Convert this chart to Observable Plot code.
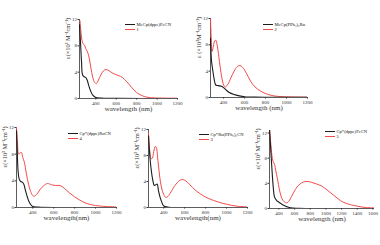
<!DOCTYPE html>
<html><head><meta charset="utf-8">
<script src="https://cdn.jsdelivr.net/npm/d3@7"></script>
<script src="https://cdn.jsdelivr.net/npm/@observablehq/plot@0.6"></script>
<style>
html,body{margin:0;padding:0;background:#fff;}
#fig{position:relative;width:380px;height:245px;overflow:hidden;font-family:"Liberation Serif",serif;}
.pan{position:absolute;}
.leg{position:absolute;font-size:4.6px;line-height:5px;color:#111;white-space:nowrap;}
.leg .row{display:flex;align-items:center;height:5px;}
.leg .sw{display:inline-block;width:10px;height:0;margin-right:1.5px;}
</style></head>
<body><div id="fig"></div>
<script>
// ---- data (wavelength in nm, ε in 10^3 M^-1 cm^-1) ----
const xLabel = "wavelength (nm)";
const yLabel = "ε(×10³ M⁻¹cm⁻¹)";

const p1Names = ["MeCp(dppe)FeCN", "1"];
const p1BlackWl = [240,250,260,270,285,300,315,330,350,370,400,450,600,1200];
const p1BlackV  = [11.2,8.5,5.5,3.6,3.3,3.2,2.8,2.0,1.1,0.5,0.15,0.05,0.02,0];
const p1RedWl = [245,255,265,275,290,300,315,330,350,370,390,405,425,450,475,500,530,570,620,660,700,750,800,850,900,1000,1200];
const p1RedV  = [11.8,10,8.8,8.3,8.1,7.6,7.2,6.5,4.8,3.2,2.4,2.25,2.8,3.6,4.2,4.4,4.2,3.8,3.5,3.2,2.6,1.7,0.9,0.45,0.2,0.08,0.05];
const p1XTicks = [400,600,800,1000,1200];

const p2Names = ["MeCp(PPh₃)₂Ru", "2"];
const p2BlackWl = [275,285,295,310,325,350,380,400,420,450,500,550,600,700,1200];
const p2BlackV  = [9,5.5,4.3,2.8,1.9,1.8,1.7,1.5,1.2,0.8,0.45,0.25,0.12,0.05,0.02];
const p2RedWl = [275,282,290,300,315,325,340,360,380,400,415,440,470,500,530,555,580,620,660,700,750,800,850,900,1000,1200];
const p2RedV  = [12,9,7.0,7.6,8.6,8.7,7.8,5.5,3.3,1.9,1.6,2.0,3.0,4.0,4.7,4.85,4.6,3.6,2.4,1.6,1.0,0.6,0.35,0.2,0.1,0.05];
const p2XTicks = [400,600,800,1000,1200];

const p3Names = ["Cp*(dppe)RuCN", "4"];
const p3BlackWl = [245,252,260,270,285,300,315,330,350,365,380,400,450,1200];
const p3BlackV  = [11.5,8.5,5.5,4.3,3.9,3.8,3.5,2.6,1.5,0.85,0.45,0.15,0.05,0];
const p3RedWl = [245,255,265,280,292,305,320,340,360,380,400,415,440,470,500,540,580,620,660,700,750,800,850,900,950,1000,1100,1200];
const p3RedV  = [12,9.5,8.0,8.2,8.25,7.5,6.8,5.0,3.5,2.4,1.8,1.7,2.0,2.7,3.2,3.6,3.4,3.3,3.3,2.9,2.2,1.6,1.1,0.7,0.45,0.3,0.15,0.1];
const p3XTicks = [400,600,800,1000,1200];

const p4Names = ["Cp*Ru(PPh₃)₂CN", "3"];
const p4BlackWl = [255,265,278,295,310,325,338,350,365,380,400,450,1200];
const p4BlackV  = [11,8.5,6.2,4.3,3.4,3.5,3.6,2.6,1.6,0.9,0.25,0.05,0];
const p4RedWl = [255,265,280,292,305,320,330,345,360,380,400,420,440,470,500,540,575,610,650,700,750,800,850,900,1000,1100,1200];
const p4RedV  = [11.5,9.0,7.5,7.6,8.6,9.4,9.2,7.2,5.0,3.0,2.0,1.55,1.7,2.4,3.2,4.0,4.3,4.1,3.5,2.7,2.1,1.6,1.25,0.95,0.5,0.2,0.1];
const p4XTicks = [400,600,800,1000,1200];

const p5Names = ["Cp*(dppe)FeCN", "5"];
const p5BlackWl = [280,295,310,325,345,370,400,430,460,500,550,650,1620];
const p5BlackV  = [12.6,9.5,6.5,3.8,1.8,1.3,1.0,0.75,0.5,0.3,0.1,0.03,0];
const p5RedWl = [280,295,310,325,345,360,380,410,440,470,500,530,560,590,630,670,710,760,820,880,940,1000,1050,1100,1160,1220,1300,1350,1450,1520,1620];
const p5RedV  = [12.8,10.5,8.5,7.5,7.0,6.0,4.8,2.8,1.55,1.05,0.9,1.2,1.9,2.6,3.4,3.9,4.2,4.3,4.15,3.9,3.6,3.1,2.6,2.1,1.5,1.0,0.65,0.5,0.25,0.15,0.1];
const p5XTicks = [400,600,800,1000,1200,1400,1600];

const yTicks = [0,4,8,12];

// ---- layout (frame boxes in page pixels) ----
const panels = [
  {names:p1Names, bw:p1BlackWl, bv:p1BlackV, rw:p1RedWl, rv:p1RedV, xt:p1XTicks, xd:[240,1200], yd:[0,12], box:[79,19,177,98], leg:[125,24], xlab:"wavelength (nm)"},
  {names:p2Names, bw:p2BlackWl, bv:p2BlackV, rw:p2RedWl, rv:p2RedV, xt:p2XTicks, xd:[275,1200], yd:[0,12], box:[210,18,307,97], leg:[263,24], xlab:"wavelength (nm)", ylab:"ε (×10³M⁻¹cm⁻¹)"},
  {names:p3Names, bw:p3BlackWl, bv:p3BlackV, rw:p3RedWl, rv:p3RedV, xt:p3XTicks, xd:[245,1200], yd:[0,12], box:[16,127,116,207], leg:[68,133], xlab:"wavelength(nm)"},
  {names:p4Names, bw:p4BlackWl, bv:p4BlackV, rw:p4RedWl, rv:p4RedV, xt:p4XTicks, xd:[255,1200], yd:[0,12], box:[148,129,247,207], leg:[199,134], xlab:"wavelength(nm)"},
  {names:p5Names, bw:p5BlackWl, bv:p5BlackV, rw:p5RedWl, rv:p5RedV, xt:p5XTicks, xd:[280,1620], yd:[0,12.4], box:[269,130,374,208], leg:[325,131], xlab:"wavelength (nm)"}
];

const fig = document.getElementById("fig");
const BLACK = "#1c1c1c", RED = "#f24a4a";
const fmt = d => String(d);

panels.forEach(p => {
  const [fl, ft, fr, fb] = p.box;
  const ml = 16, mt = 4, mr = 4, mb = 17;
  const black = p.bw.map((w,i) => ({w, v: p.bv[i]}));
  const red = p.rw.map((w,i) => ({w, v: p.rv[i]}));
  const svg = Plot.plot({
    width: ml + (fr - fl) + mr,
    height: mt + (fb - ft) + mb,
    marginLeft: ml, marginRight: mr, marginTop: mt, marginBottom: mb,
    style: {background: "transparent", fontFamily: "Liberation Serif, serif", color: "#333", overflow: "visible"},
    x: {domain: p.xd},
    y: {domain: p.yd},
    marks: [
      Plot.axisX({ticks: p.xt, tickFormat: fmt, tickSize: 1.5, tickPadding: 1, fontSize: 5, label: null, stroke: "#333"}),
      Plot.axisY({ticks: yTicks, tickFormat: fmt, tickSize: 1.5, tickPadding: 1, fontSize: 5, label: null, stroke: "#333"}),
      Plot.ruleY([0], {stroke: "#333", strokeWidth: 0.8}),
      Plot.ruleX([p.xd[0]], {stroke: "#333", strokeWidth: 0.8}),
      Plot.line(red, {x: "w", y: "v", stroke: RED, strokeWidth: 1.0, curve: "catmull-rom", clip: true}),
      Plot.line(black, {x: "w", y: "v", stroke: BLACK, strokeWidth: 1.1, curve: "catmull-rom", clip: true}),
      Plot.text([p.xlab], {frameAnchor: "bottom", dy: 12.5, fontSize: 7, fill: "#333"}),
      Plot.text([p.ylab || yLabel], {frameAnchor: "left", dx: -11.5, rotate: -90, fontSize: 6.3, fill: "#333"})
    ]
  });
  svg.classList.add("pan");
  svg.style.left = (fl - ml) + "px";
  svg.style.top = (ft - mt) + "px";
  fig.appendChild(svg);

  const leg = document.createElement("div");
  leg.className = "leg";
  leg.style.left = p.leg[0] + "px";
  leg.style.top = (p.leg[1] - 2.5) + "px";
  [[BLACK, p.names[0], 1.1], [RED, p.names[1], 1.0]].forEach(([c, t, sw]) => {
    const row = document.createElement("div");
    row.className = "row";
    const s = document.createElement("span");
    s.className = "sw";
    s.style.borderTop = sw + "px solid " + c;
    row.appendChild(s);
    const tx = document.createElement("span");
    tx.textContent = t;
    row.appendChild(tx);
    leg.appendChild(row);
  });
  fig.appendChild(leg);
});
</script></body></html>
